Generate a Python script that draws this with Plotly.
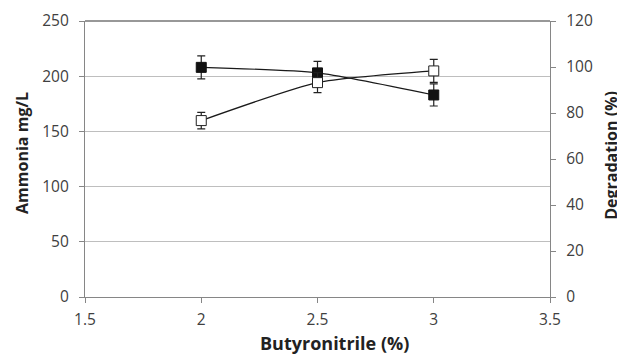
import plotly.graph_objects as go

butyronitrile = [2.0, 2.5, 3.0]
ammonia = [208, 203, 183]
ammonia_err = [10.5, 10.5, 10]
degradation = [76.7, 93.2, 98.3]
degradation_err = [3.6, 4.3, 5.0]

x_ticks = [1.5, 2, 2.5, 3, 3.5]
x_tick_labels = ["1.5", "2", "2.5", "3", "3.5"]

font_family = "Open Sans, Liberation Sans, sans-serif"
line_col = "#1a1a1a"
tick_font = dict(family=font_family, size=15.5, color="#404040")
ytitle_font = dict(family=font_family, size=16, color="#222222")
xtitle_font = dict(family=font_family, size=18, color="#222222")

fig = go.Figure()
fig.add_trace(go.Scatter(
    x=butyronitrile, y=ammonia, name="Ammonia", yaxis="y",
    mode="lines+markers", line=dict(color=line_col, width=1.2, shape="spline", smoothing=0.6),
    marker=dict(symbol="square", size=10, color="#111111", line=dict(color="#111111", width=1)),
    error_y=dict(type="data", array=ammonia_err, color="#222222", thickness=1.2, width=4),
    showlegend=False,
))
fig.add_trace(go.Scatter(
    x=butyronitrile, y=degradation, name="Degradation", yaxis="y2",
    mode="lines+markers", line=dict(color=line_col, width=1.2, shape="spline", smoothing=0.6),
    marker=dict(symbol="square", size=10, color="white", line=dict(color="#222222", width=1)),
    error_y=dict(type="data", array=degradation_err, color="#222222", thickness=1.2, width=4),
    showlegend=False,
))

# page body has an 8px default margin, so the figure is 8px smaller and margins shifted
fig.update_layout(
    width=617, height=348,
    margin=dict(l=77, r=75, t=13, b=59),
    paper_bgcolor="white", plot_bgcolor="white",
    font=dict(family=font_family, size=15.5, color="#404040"),
    xaxis=dict(
        range=[1.5, 3.5], tickvals=x_ticks, ticktext=x_tick_labels,
        showgrid=False, zeroline=False, automargin=False,
        showline=True, linecolor="#868686", linewidth=1.3,
        ticks="outside", ticklen=5, tickcolor="#868686",
        tickfont=tick_font, ticklabelstandoff=3,
    ),
    yaxis=dict(
        range=[0, 250], dtick=50, showgrid=True, gridcolor="#BEBEBE", gridwidth=1.2,
        zeroline=False, showline=True, linecolor="#868686", linewidth=1.3, automargin=False,
        ticks="outside", ticklen=5, tickcolor="#868686",
        tickfont=tick_font, ticklabelstandoff=7,
    ),
    yaxis2=dict(
        range=[0, 120], dtick=20, overlaying="y", side="right", automargin=False,
        showgrid=False, zeroline=False, showline=True, linecolor="#868686", linewidth=1.3,
        ticks="outside", ticklen=5, tickcolor="#868686",
        tickfont=tick_font, ticklabelstandoff=7,
    ),
    shapes=[dict(type="line", xref="paper", yref="paper", x0=0, x1=1, y0=1, y1=1,
                 line=dict(color="#333333", width=1.2))],
    annotations=[
        dict(text="<b>Ammonia mg/L</b>", xref="paper", yref="paper", x=-0.1355, y=0.522,
             xanchor="center", yanchor="middle", textangle=-90, showarrow=False, font=ytitle_font),
        dict(text="<b>Degradation (%)</b>", xref="paper", yref="paper", x=1.131, y=0.515,
             xanchor="center", yanchor="middle", textangle=-90, showarrow=False, font=ytitle_font),
        dict(text="<b>Butyronitrile (%)</b>", xref="paper", yref="paper", x=0.5355, y=-0.165,
             xanchor="center", yanchor="middle", showarrow=False, font=xtitle_font),
    ],
)

fig.write_html("out.html")
